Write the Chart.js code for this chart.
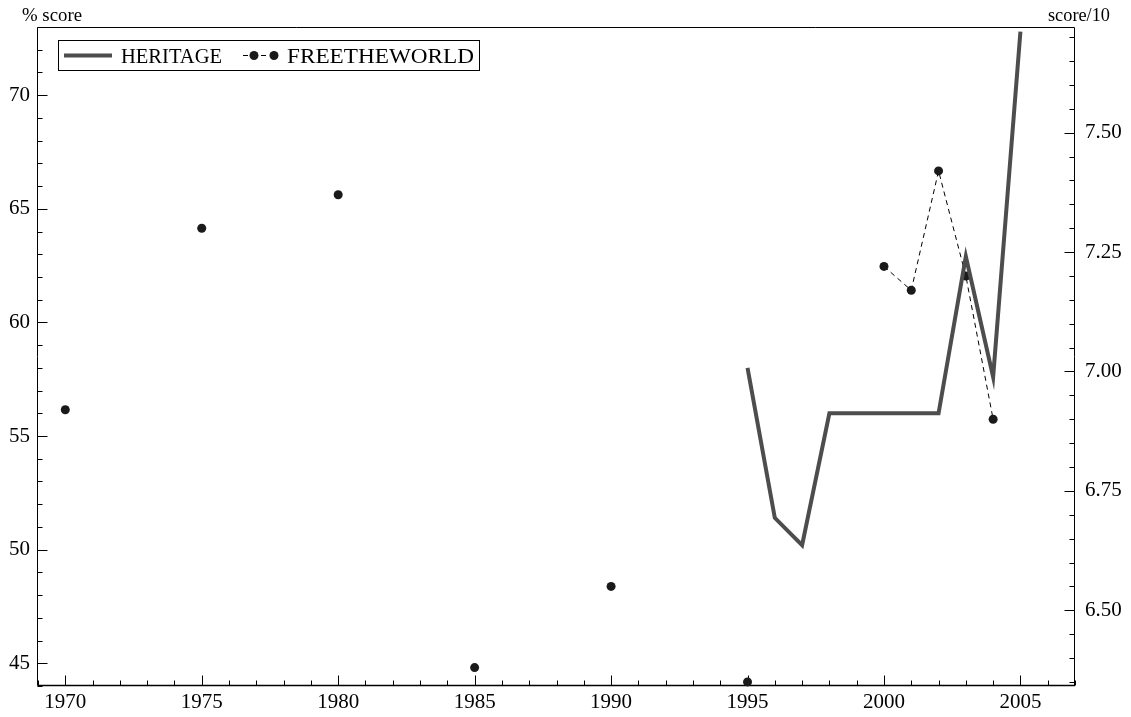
<!DOCTYPE html>
<html>
<head>
<meta charset="utf-8">
<script src="https://cdn.jsdelivr.net/npm/chart.js@4/dist/chart.umd.min.js"></script>
<style>
html,body{margin:0;padding:0;background:#fff;}
#wrap{width:1131px;height:717px;position:relative;}
</style>
</head>
<body>
<div id="wrap"><canvas id="c"></canvas></div>
<script>
// ---- data ----
const heritageYears = [1995,1996,1997,1998,1999,2000,2001,2002,2003,2004,2005];
const heritageValues = [58.0,51.4,50.2,56.0,56.0,56.0,56.0,56.0,62.9,57.6,72.8];
const ftwYears = [1970,1975,1980,1985,1990,1995,2000,2001,2002,2003,2004];
const ftwValues = [6.92,7.30,7.37,6.38,6.55,6.35,7.22,7.17,7.42,7.20,6.90];
const xTickLabels = [1970,1975,1980,1985,1990,1995,2000,2005];
const leftTickLabels = [45,50,55,60,65,70];
const rightTickLabels = [6.50,6.75,7.00,7.25,7.50];
const seriesNames = ['HERITAGE','FREETHEWORLD'];
const leftAxisTitle = '% score';
const rightAxisTitle = 'score/10';

// ---- build datasets ----
const heritageData = heritageYears.map((x,i)=>({x:x,y:heritageValues[i]}));
const ftwData = [];
ftwYears.forEach((x,i)=>{
  ftwData.push({x:x,y:ftwValues[i]});
  if(i<ftwYears.length-1 && ftwYears[i+1]-x>1) ftwData.push({x:x+0.5,y:null});
});

const FONT = 'Liberation Serif, Times New Roman, serif';
const HER_COLOR = '#4d4d4d';
const DOT_COLOR = '#1a1a1a';

function fitText(ctx, text, x, y, w){
  const m = ctx.measureText(text).width;
  ctx.save();
  ctx.translate(x, y);
  ctx.scale(w/m, 1);
  ctx.fillText(text, 0, 0);
  ctx.restore();
}

const framePlugin = {
  id:'frame',
  beforeDatasetsDraw(chart){
    const ctx = chart.ctx, a = chart.chartArea;
    const sx = chart.scales.x, sy = chart.scales.y, sy2 = chart.scales.y2;
    ctx.save();
    ctx.strokeStyle = '#000';
    ctx.lineWidth = 1;
    const L = Math.round(a.left)-0.5, R = Math.round(a.right)-0.5, T = Math.round(a.top)+0.5, B = Math.round(a.bottom)-0.5;
    ctx.beginPath();
    ctx.moveTo(L,T); ctx.lineTo(R,T);
    ctx.moveTo(L,T); ctx.lineTo(L,B);
    ctx.moveTo(R,T); ctx.lineTo(R,B);
    ctx.stroke();
    ctx.lineWidth = 1.6;
    ctx.beginPath(); ctx.moveTo(L,B); ctx.lineTo(R+0.5,B); ctx.stroke();
    ctx.lineWidth = 1;
    ctx.beginPath();
    for(let yr=Math.ceil(sx.min); yr<=sx.max; yr++){
      const px = Math.round(sx.getPixelForValue(yr))+0.5;
      const len = (yr%5===0)?10:5;
      ctx.moveTo(px,B); ctx.lineTo(px,B-len);
    }
    for(let v=Math.ceil(sy.min); v<=sy.max; v++){
      const py = Math.round(sy.getPixelForValue(v))+0.5;
      const len = (v%5===0)?10:5;
      ctx.moveTo(L,py); ctx.lineTo(L+len,py);
    }
    for(let k=Math.ceil(sy2.min/0.05-1e-6); k*0.05<=sy2.max; k++){
      const v = k*0.05;
      const py = Math.round(sy2.getPixelForValue(v))+0.5;
      const len = (k%5===0)?10:5;
      ctx.moveTo(R,py); ctx.lineTo(R-len,py);
    }
    ctx.stroke();
    ctx.fillStyle = '#000';
    ctx.font = '18px ' + FONT;
    ctx.textBaseline = 'middle';
    ctx.textAlign = 'left';
    fitText(ctx, leftAxisTitle, 22, 16, 60);
    fitText(ctx, rightAxisTitle, 1048, 16, 62);
    ctx.restore();
  },
  afterDatasetsDraw(chart){
    const ctx = chart.ctx;
    ctx.save();
    ctx.fillStyle = '#fff';
    ctx.fillRect(58.5,40.5,421,30);
    ctx.strokeStyle = '#000';
    ctx.lineWidth = 1;
    ctx.strokeRect(58.5,40.5,421,30);
    ctx.strokeStyle = HER_COLOR;
    ctx.lineWidth = 4;
    ctx.beginPath(); ctx.moveTo(64,55.5); ctx.lineTo(112,55.5); ctx.stroke();
    ctx.fillStyle = '#000';
    ctx.font = '22px ' + FONT;
    ctx.textBaseline = 'middle';
    ctx.textAlign = 'left';
    fitText(ctx, seriesNames[0], 121, 57, 101);
    ctx.strokeStyle = '#000';
    ctx.lineWidth = 1;
    ctx.setLineDash([5,4]);
    ctx.beginPath(); ctx.moveTo(243,55.5); ctx.lineTo(266,55.5); ctx.stroke();
    ctx.setLineDash([]);
    ctx.fillStyle = DOT_COLOR;
    [254,274].forEach(x=>{ctx.beginPath(); ctx.arc(x,55.5,4.5,0,Math.PI*2); ctx.fill();});
    ctx.fillStyle = '#000';
    fitText(ctx, seriesNames[1], 287, 57, 187);
    ctx.restore();
  }
};

new Chart(document.getElementById('c'), {
  type:'line',
  data:{
    datasets:[
      {label:seriesNames[0], data:heritageData, yAxisID:'y', borderColor:HER_COLOR, borderWidth:4,
       pointRadius:0, pointHoverRadius:0, fill:false, tension:0, borderJoinStyle:'miter'},
      {label:seriesNames[1], data:ftwData, yAxisID:'y2', borderColor:'#000', borderWidth:1, borderDash:[5,4],
       pointRadius:4.5, pointBackgroundColor:DOT_COLOR, pointBorderColor:DOT_COLOR, pointBorderWidth:0,
       spanGaps:false, fill:false, tension:0, clip:false}
    ]
  },
  options:{
    responsive:true, maintainAspectRatio:false, animation:false,
    layout:{padding:{top:27,left:0,right:0,bottom:0}},
    plugins:{legend:{display:false}, tooltip:{enabled:false}},
    scales:{
      x:{type:'linear', min:1969, max:2007, position:'bottom',
         grid:{display:false, drawTicks:false}, border:{display:false},
         afterBuildTicks:s=>{s.ticks = xTickLabels.map(v=>({value:v}));},
         afterFit:s=>{s.height = 31;},
         ticks:{color:'#000', font:{family:FONT,size:21}, padding:4, maxRotation:0, autoSkip:false,
                callback:v=>String(v)}},
      y:{type:'linear', position:'left', min:44, max:73,
         grid:{display:false, drawTicks:false}, border:{display:false},
         afterBuildTicks:s=>{s.ticks = leftTickLabels.map(v=>({value:v}));},
         afterFit:s=>{s.width = 38;},
         ticks:{color:'#000', font:{family:FONT,size:21}, padding:8, callback:v=>String(v)}},
      y2:{type:'linear', position:'right', min:6.3415, max:7.7213,
         grid:{display:false, drawTicks:false}, border:{display:false},
         afterBuildTicks:s=>{s.ticks = rightTickLabels.map(v=>({value:v}));},
         afterFit:s=>{s.width = 56;},
         ticks:{color:'#000', font:{family:FONT,size:21}, padding:10, callback:v=>Number(v).toFixed(2)}}
    }
  },
  plugins:[framePlugin]
});
</script>
</body>
</html>
